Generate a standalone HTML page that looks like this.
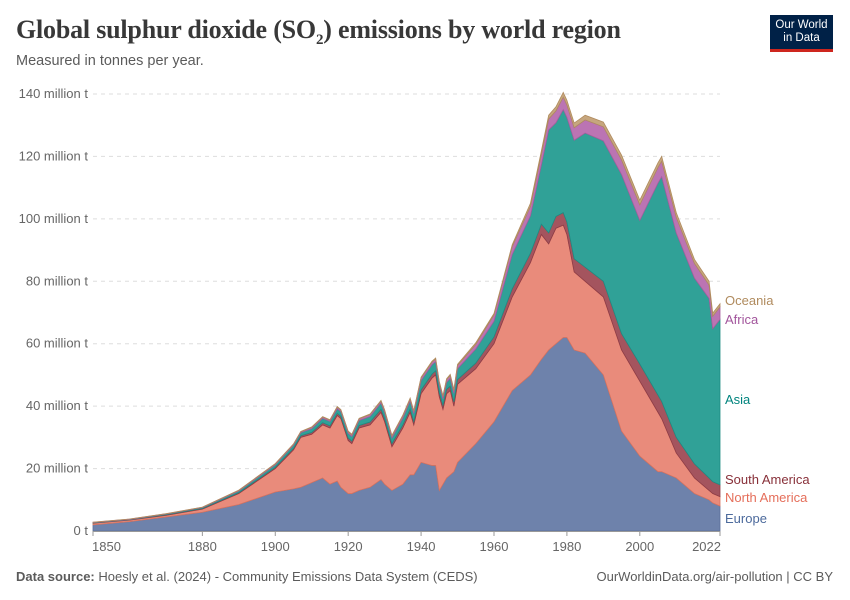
<!DOCTYPE html>
<html><head><meta charset="utf-8">
<style>
body{margin:0;background:#fff;font-family:"Liberation Sans",sans-serif;}
#wrap{position:relative;width:850px;height:600px;overflow:hidden;}
.t{position:absolute;white-space:nowrap;}
</style></head>
<body>
<div id="wrap">
<div class="t" style="left:16px;top:15px;font-family:'Liberation Serif',serif;font-size:26px;font-weight:bold;color:#383838;letter-spacing:-0.2px;">Global sulphur dioxide (SO<sub style="font-size:15px">2</sub>) emissions by world region</div>
<div class="t" style="left:16px;top:53px;font-size:14.5px;color:#5b5b5b;">Measured in tonnes per year.</div>
<div style="position:absolute;left:770px;top:15px;width:63px;height:37px;background:#002147;border-bottom:3px solid #ce261e;box-sizing:border-box;color:#fff;font-size:11.5px;line-height:13px;text-align:center;padding-top:4px;">Our World<br>in Data</div>
<svg id="chart" width="850" height="600" style="position:absolute;left:0;top:0"></svg>
<div class="t" style="left:16px;top:569px;font-size:13px;color:#5b5b5b;"><b>Data source:</b> Hoesly et al. (2024) - Community Emissions Data System (CEDS)</div>
<div class="t" style="right:17px;top:569px;font-size:13px;color:#5b5b5b;">OurWorldinData.org/air-pollution | CC BY</div>
</div>
<script>
const years=[1850,1860,1870,1880,1890,1900,1905,1907,1910,1913,1915,1917,1918,1920,1921,1923,1926,1929,1930,1932,1935,1937,1938,1940,1943,1944,1945,1946,1947,1948,1949,1950,1955,1960,1965,1970,1973,1975,1977,1979,1980,1982,1985,1990,1995,2000,2005,2006,2010,2015,2019,2020,2022];
const europe=[2,3,4.5,6,8.5,12.5,13.5,14,15.5,17,15,16,14,12,12,13,14,16.5,15,13,15,18,18,22,21,21,13,15,17,18,19,22,28,35,45,50,55,58,60,62,62,58,57,50,32,24,19,19,17,12,10,9,8];
const northAmerica=[0.5,0.5,0.5,1,3.5,7.5,12.5,16,15.5,17,18,21,22,17,16,20,20,21.5,20,14,18,20,16,22,28,29,30,24,27,27,21,25,24,25,30,36,40,34,37,36,33,25,23,25,26,24,19,17,8,5,3,3,3];
const southAmerica=[0.1,0.1,0.2,0.2,0.3,0.4,0.5,0.5,0.6,0.7,0.7,0.7,0.7,0.8,0.8,0.8,0.9,1,1,1,1,1.1,1.1,1.2,1.3,1.3,1.3,1.3,1.4,1.4,1.4,1.5,1.8,2.2,2.6,3,3.3,3.5,3.8,4,4,4.2,4.5,5,5.2,5.5,5.5,5.5,5,4.5,4,3.8,3.8];
const asia=[0.1,0.1,0.2,0.3,0.5,0.8,1,1,1.2,1.4,1.4,1.5,1.5,1.5,1.5,1.6,1.8,2,2,1.8,2.2,2.5,2.5,3,3,3,2.5,2,2.2,2.5,2.7,3.5,4.5,5,11,12,19,33,30,33,33.5,38,43,45,51,46,68,72,65.5,59.5,57.5,49,53];
const africa=[0.1,0.1,0.1,0.1,0.2,0.3,0.3,0.3,0.4,0.4,0.4,0.5,0.5,0.5,0.5,0.5,0.6,0.6,0.6,0.6,0.7,0.7,0.7,0.8,0.8,0.8,0.8,0.8,0.9,0.9,0.9,1,1.5,2,2.5,3,3.3,3.5,3.8,4,4,4,4.2,4.5,4.7,5,5,5,5,4.7,4.3,4,4];
const oceania=[0.05,0.05,0.05,0.05,0.1,0.1,0.1,0.1,0.15,0.15,0.15,0.2,0.2,0.2,0.2,0.2,0.2,0.25,0.25,0.25,0.25,0.3,0.3,0.3,0.3,0.3,0.3,0.3,0.3,0.4,0.4,0.4,0.5,0.5,0.6,1,1.2,1.2,1.3,1.5,1.5,1.5,1.5,1.5,1.5,1.5,1.5,1.5,1.5,1.3,1.2,1,1];
const yTicks=[0,20,40,60,80,100,120,140];
const yTickLabels=["0 t","20 million t","40 million t","60 million t","80 million t","100 million t","120 million t","140 million t"];
const xTicks=[1850,1880,1900,1920,1940,1960,1980,2000,2022];

const NS="http://www.w3.org/2000/svg";
const svg=document.getElementById('chart');
const X0=93,X1=720,Y0=531,Y1=94;
const x=y=>X0+(y-1850)/(2022-1850)*(X1-X0);
const yS=v=>Y0-v/140*(Y0-Y1);
function mk(tag,attrs){const e=document.createElementNS(NS,tag);for(const k in attrs)e.setAttribute(k,attrs[k]);svg.appendChild(e);return e;}

yTicks.forEach((t,i)=>{
  if(t>0){const g=mk('line',{x1:93,x2:720,y1:yS(t),y2:yS(t),stroke:'#dddddd','stroke-dasharray':'4,4'});
  
  }
  const tx=mk('text',{x:88,y:yS(t)+4,'text-anchor':'end','font-size':13,fill:'#666','font-family':'Liberation Sans, sans-serif'});
  tx.textContent=yTickLabels[i];
  
  
});

const series=[
 {name:'europe',vals:europe,fill:'#6e82ab',stroke:'#5a6f9a'},
 {name:'north-america',vals:northAmerica,fill:'#e98b7b',stroke:'#d8735f'},
 {name:'south-america',vals:southAmerica,fill:'#a4545e',stroke:'#8e3c46'},
 {name:'asia',vals:asia,fill:'#30a197',stroke:'#1f8c83'},
 {name:'africa',vals:africa,fill:'#bb74b3',stroke:'#a65e9e'},
 {name:'oceania',vals:oceania,fill:'#c6a67e',stroke:'#b08b5e'}
];
let base=years.map(()=>0);
series.forEach(s=>{
  const top=base.map((b,i)=>b+s.vals[i]);
  let d='M'+years.map((yr,i)=>x(yr)+','+yS(top[i])).join('L');
  for(let i=years.length-1;i>=0;i--)d+='L'+x(years[i])+','+yS(base[i]);
  d+='Z';
  const p=mk('path',{d:d,fill:s.fill,stroke:s.stroke,'stroke-width':0.8});
  
  
  base=top;
});

const ax=mk('line',{x1:93,x2:720,y1:Y0+0.5,y2:Y0+0.5,stroke:'#999'});


xTicks.forEach((t,i)=>{
  const tk=mk('line',{x1:x(t),x2:x(t),y1:Y0,y2:Y0+5,stroke:'#999'});
  
  
  let anchor='middle',xx=x(t);
  if(i===0){anchor='start';xx=x(t)-1;}
  if(i===xTicks.length-1){anchor='end';xx=x(t)+1;}
  const tx=mk('text',{x:xx,y:Y0+20,'text-anchor':anchor,'font-size':13,fill:'#666','font-family':'Liberation Sans, sans-serif'});
  tx.textContent=t;
  
  
});

const labels=[["Oceania",305,'#b08b5e'],["Africa",324,'#a2559c'],["Asia",404,'#00847e'],["South America",484,'#883039'],["North America",502,'#e56e5a'],["Europe",523,'#4c6a9c']];
labels.forEach(l=>{
  const tx=mk('text',{x:725,y:l[1],'font-size':13,fill:l[2],'font-family':'Liberation Sans, sans-serif'});
  tx.textContent=l[0];
  
  
});
</script>
</body></html>
